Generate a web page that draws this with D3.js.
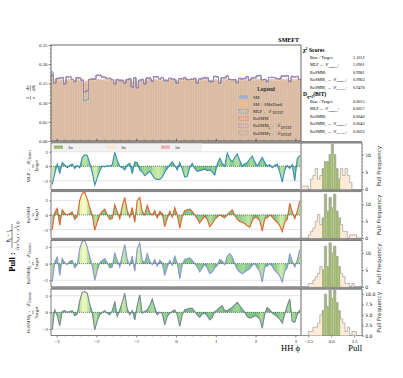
<!DOCTYPE html>
<html>
<head>
<meta charset="utf-8">
<script src="https://cdn.jsdelivr.net/npm/d3@7"></script>
<style>
  body { margin: 0; background: #fff; }
  svg { font-family: "Liberation Serif", "DejaVu Serif", serif; }
</style>
</head>
<body>
<svg id="chart" width="403" height="378"></svg>
<script>
// ---- data ----
const phiTicks = [-3, -2, -1, 0, 1, 2, 3];
const topTicks = [0, 0.05, 0.10, 0.15, 0.20, 0.25];

const smVals = [
  0.178,0.156,0.157,0.155,0.158,0.154,0.157,0.158,0.156,0.155,
  0.157,0.156,0.155,0.150,0.152,0.157,0.158,0.156,0.158,0.159,
  0.158,0.157,0.156,0.157,0.155,0.154,0.156,0.157,0.156,0.155,
  0.157,0.158,0.153,0.157,0.152,0.156,0.157,0.154,0.158,0.157,
  0.155,0.158,0.158,0.157,0.156,0.157,0.156,0.157,0.158,0.156,
  0.154,0.157,0.156,0.158,0.157,0.156,0.157,0.158,0.154,0.157,
  0.157,0.158,0.158,0.155,0.156,0.158,0.157,0.153,0.157,0.158,
  0.159,0.156,0.157,0.157,0.154,0.157,0.157,0.158,0.158,0.156,
  0.157,0.158,0.159,0.158,0.157,0.156,0.155,0.158,0.157,0.157,
  0.156,0.157,0.158,0.158,0.159,0.155,0.158,0.157,0.158,0.156
];
const bsmVals = [
  0.170,0.160,0.161,0.158,0.160,0.157,0.160,0.161,0.159,0.158,
  0.160,0.159,0.160,0.156,0.157,0.160,0.162,0.160,0.161,0.160,
  0.159,0.160,0.161,0.159,0.158,0.157,0.159,0.160,0.161,0.158,
  0.159,0.160,0.156,0.160,0.156,0.159,0.160,0.158,0.161,0.160,
  0.158,0.161,0.160,0.160,0.159,0.158,0.160,0.159,0.161,0.159,
  0.157,0.160,0.159,0.161,0.160,0.159,0.160,0.161,0.158,0.160,
  0.161,0.160,0.161,0.158,0.159,0.161,0.160,0.157,0.160,0.161,
  0.162,0.159,0.160,0.161,0.157,0.160,0.160,0.161,0.162,0.159,
  0.160,0.161,0.162,0.161,0.160,0.159,0.158,0.161,0.160,0.160,
  0.159,0.161,0.161,0.160,0.162,0.158,0.161,0.160,0.162,0.159
];
const mlpVals = [
  0.180,0.152,0.164,0.162,0.166,0.149,0.167,0.168,0.161,0.156,
  0.166,0.163,0.157,0.105,0.108,0.161,0.160,0.163,0.171,0.170,
  0.168,0.165,0.164,0.162,0.161,0.149,0.159,0.159,0.156,0.151,
  0.161,0.161,0.141,0.164,0.139,0.157,0.161,0.149,0.164,0.165,
  0.156,0.167,0.168,0.161,0.166,0.157,0.158,0.162,0.163,0.159,
  0.151,0.162,0.163,0.164,0.161,0.159,0.162,0.162,0.151,0.161,
  0.164,0.164,0.165,0.154,0.156,0.167,0.168,0.151,0.164,0.165,
  0.169,0.161,0.159,0.160,0.153,0.162,0.163,0.162,0.167,0.159,
  0.164,0.165,0.169,0.171,0.159,0.161,0.154,0.165,0.166,0.165,
  0.163,0.161,0.169,0.170,0.169,0.156,0.167,0.168,0.167,0.161
];
const rosmmVals = [
  0.173,0.151,0.162,0.164,0.164,0.149,0.167,0.166,0.161,0.154,
  0.164,0.165,0.159,0.127,0.131,0.159,0.162,0.161,0.171,0.172,
  0.166,0.167,0.162,0.164,0.159,0.149,0.161,0.157,0.158,0.151,
  0.159,0.163,0.141,0.164,0.139,0.159,0.159,0.149,0.164,0.163,
  0.156,0.167,0.166,0.163,0.164,0.159,0.156,0.164,0.161,0.161,
  0.151,0.162,0.161,0.166,0.159,0.161,0.160,0.164,0.151,0.161,
  0.162,0.166,0.163,0.156,0.154,0.169,0.166,0.151,0.164,0.165,
  0.169,0.161,0.159,0.160,0.151,0.164,0.161,0.164,0.167,0.159,
  0.164,0.165,0.169,0.171,0.159,0.161,0.156,0.165,0.166,0.165,
  0.161,0.163,0.169,0.168,0.171,0.154,0.169,0.166,0.169,0.159
];
const rosmmLVals = [
  0.172,0.150,0.163,0.163,0.165,0.148,0.168,0.167,0.160,0.155,
  0.165,0.164,0.158,0.128,0.130,0.160,0.161,0.162,0.172,0.171,
  0.167,0.166,0.163,0.163,0.160,0.148,0.160,0.158,0.157,0.150,
  0.160,0.162,0.140,0.165,0.138,0.158,0.160,0.148,0.165,0.164,
  0.155,0.168,0.167,0.162,0.165,0.158,0.157,0.163,0.162,0.160,
  0.150,0.163,0.162,0.165,0.160,0.160,0.161,0.163,0.150,0.162,
  0.163,0.165,0.164,0.155,0.155,0.168,0.167,0.150,0.165,0.164,
  0.170,0.160,0.160,0.159,0.152,0.163,0.162,0.163,0.168,0.158,
  0.165,0.164,0.170,0.170,0.160,0.160,0.155,0.166,0.165,0.166,
  0.162,0.162,0.170,0.169,0.170,0.155,0.168,0.167,0.168,0.160
];
const rosmmTVals = [
  0.171,0.151,0.162,0.164,0.165,0.149,0.167,0.167,0.160,0.156,
  0.165,0.163,0.158,0.130,0.132,0.160,0.161,0.161,0.171,0.171,
  0.167,0.165,0.163,0.162,0.160,0.149,0.160,0.158,0.157,0.151,
  0.160,0.161,0.141,0.164,0.139,0.158,0.160,0.149,0.164,0.164,
  0.156,0.167,0.167,0.162,0.164,0.158,0.157,0.162,0.162,0.160,
  0.151,0.162,0.162,0.164,0.160,0.160,0.161,0.162,0.151,0.162,
  0.163,0.164,0.164,0.156,0.155,0.167,0.167,0.151,0.164,0.164,
  0.169,0.160,0.160,0.159,0.153,0.162,0.162,0.163,0.167,0.158,
  0.164,0.164,0.169,0.170,0.160,0.160,0.156,0.165,0.165,0.165,
  0.162,0.162,0.169,0.169,0.169,0.156,0.167,0.167,0.167,0.160
];

// pulls per phi bin, one array per model
const pullMLP = [
  -2.5,-1.0,0.3,-1.0,0.5,0.2,-0.2,0.1,0.3,-0.3,
  0.1,-0.2,1.2,1.6,1.5,0.4,-0.8,-2.6,-1.6,-0.6,
  0.0,-0.1,0.1,0.0,0.2,1.9,0.8,0.0,-0.2,-0.5,
  0.2,0.4,-1.0,0.6,0.5,-0.5,-0.8,-1.3,-1.0,-0.7,
  -1.2,-1.7,-1.8,-1.8,-1.5,-0.8,-0.3,0.2,0.6,0.1,
  -0.5,0.5,-0.4,-1.5,-1.4,-0.2,0.4,-0.3,-0.7,-0.6,
  -0.5,-0.4,-0.6,-0.5,-0.8,-1.2,0.3,1.1,0.4,0.0,
  1.8,1.0,0.6,1.2,1.7,0.8,0.0,0.3,0.5,1.0,
  1.4,0.6,0.0,0.6,1.2,0.5,0.0,0.2,-0.2,0.1,
  0.3,-0.8,-2.2,-0.5,0.1,-0.3,0.2,-2.0,1.0,1.5
];
const pullRoSMM = [
  -2.0,0.3,0.9,-1.4,0.7,0.2,0.0,0.2,0.4,-0.6,
  -0.2,2.0,3.0,3.1,2.2,1.0,0.0,-2.1,-1.0,0.0,
  0.5,0.8,0.0,-0.6,-0.5,1.4,0.5,-0.5,1.2,2.4,
  0.6,-0.3,1.0,-1.0,2.0,2.4,0.5,0.0,1.3,0.3,
  0.0,0.6,-0.4,0.5,0.2,-1.6,-0.5,0.5,-0.3,1.0,
  0.0,-1.8,-0.2,0.6,0.7,0.8,0.5,0.0,-0.5,-1.1,
  -0.6,-0.2,-0.6,-1.6,-1.2,-0.6,-0.3,0.0,-0.2,-0.4,
  0.0,0.4,0.7,0.0,-0.6,-0.9,-1.0,-1.2,-1.5,-1.7,
  -0.8,-0.3,-0.4,-0.8,-2.2,-0.5,-0.4,0.0,-0.3,-0.7,
  -1.0,-1.5,-2.3,-1.0,-0.6,1.6,0.4,-0.5,0.5,1.9
];
const pullRoSMML = [
  -2.2,0.2,0.8,-1.4,0.6,0.1,-0.1,0.3,0.4,-0.5,
  -0.1,1.8,2.7,2.8,2.0,0.8,-0.2,-2.0,-0.8,0.1,
  0.4,0.6,0.1,-0.5,-0.4,1.3,0.4,-0.4,1.0,2.3,
  0.5,-0.2,0.9,-0.9,1.8,2.5,0.4,0.1,1.2,0.3,
  -0.1,0.5,-0.3,0.4,0.1,-1.4,-0.4,0.4,-0.2,0.9,
  0.1,-1.8,-0.1,0.5,0.6,0.7,0.4,0.0,-0.4,-1.0,
  -0.5,-0.1,-0.5,-1.2,-1.0,-0.5,-0.2,0.5,0.3,-0.1,
  0.9,1.2,0.8,0.0,-0.7,-1.0,-1.2,-1.0,-0.8,-0.6,
  -0.2,0.0,-0.5,-0.9,-2.2,-0.4,-0.3,0.0,-0.3,-0.8,
  -1.1,-1.5,-2.2,-0.9,-0.5,1.2,0.3,-0.4,0.4,1.7
];
const pullRoSMMT = [
  -2.1,0.3,-0.4,-1.6,0.1,0.2,0.0,0.1,0.2,-0.4,
  -0.2,1.4,2.4,2.5,2.3,1.0,0.0,-2.1,-1.0,-0.3,
  0.0,0.2,-0.1,-0.3,0.2,1.3,-0.5,0.3,1.2,2.3,
  0.4,-0.3,0.2,-0.9,0.8,2.1,-0.1,0.1,0.3,0.8,
  1.6,0.6,-0.3,0.0,-0.1,-1.5,-0.5,-0.1,0.1,0.3,
  -0.3,-1.7,-0.3,0.3,0.4,0.5,0.5,0.1,-0.3,-0.6,
  -0.2,-0.1,-0.4,-0.9,-0.6,0.1,0.3,0.6,0.8,0.2,
  0.2,0.4,0.6,0.9,1.2,0.8,0.4,0.0,-0.5,-0.7,
  -0.6,-0.4,-0.5,-0.8,-1.9,-0.2,0.6,0.3,-0.1,-0.3,
  -0.5,-0.8,-1.3,-0.2,0.8,1.6,-1.1,-1.2,-0.3,0.3
];

// pull histograms: counts per 0.25-wide bin from -3.5 to 3.5
const histMLP    = [0,1,1,1,0,3,4,6,3,4,6,8,8,10,13,10,6,3,6,4,6,4,2,0,0,0,0,0];
const histRoSMM  = [0,0,0,0,1,2,3,5,7,4,6,13,8,12,9,13,8,6,4,2,2,0,1,1,1,0,0,0];
const histRoSMML = [0,0,0,0,1,1,2,3,4,6,5,12,6,13,10,12,9,6,4,3,1,1,0,1,0,0,0,0];
const histRoSMMT = [0,0,0,0,1,1,2,2,3,5,6,10,7,11,9,11,8,6,4,3,1,2,0,1,1,0,0,0];
const histStart = -3.5, histStep = 0.25;

const chiValues = ["1.1012", "1.0901", "0.9981", "0.9963", "0.9478"];
const divValues = ["0.0015", "0.0057", "0.0040", "0.0043", "0.0033"];

// ---- layout ----
const svg = d3.select("#chart");
const L = 51, R = 301, HR = 362;
const topY0 = 45, topY1 = 141;
const panelTop = [143, 191.7, 240.4, 289.1];
const panelH = 46.5;
const frameCol = "#444";

const edges = d3.range(101).map(i => -Math.PI + i * 2 * Math.PI / 100);
const centers = d3.range(100).map(i => (edges[i] + edges[i + 1]) / 2);

const x = d3.scaleLinear().domain([-Math.PI, Math.PI]).range([L, R]);
const yTop = d3.scaleLinear().domain([0, 0.25]).range([topY1, topY0]);

function rich(t, parts, size) {
  // parts: strings or {sub: "..."} / {sup: "..."}
  let shift = 0;
  parts.forEach(p => {
    if (typeof p === "string") {
      t.append("tspan").attr("dy", -shift).text(p);
      shift = 0;
    } else if (p.sub !== undefined) {
      const s = size * 0.3;
      t.append("tspan").attr("dy", s - shift).attr("font-size", size * 0.68).text(p.sub);
      shift = s;
    } else if (p.sup !== undefined) {
      const s = -size * 0.38;
      t.append("tspan").attr("dy", s - shift).attr("font-size", size * 0.68).text(p.sup);
      shift = s;
    }
  });
  return t;
}

// ---- top panel ----
const topG = svg.append("g");
const bw = x(edges[1]) - x(edges[0]);

topG.selectAll(".sm").data(smVals).join("rect")
  .attr("x", (d, i) => x(edges[i]))
  .attr("width", bw)
  .attr("y", d => yTop(d))
  .attr("height", d => yTop(0) - yTop(d))
  .attr("fill", "#8fa6c6").attr("fill-opacity", 0.5);

topG.selectAll(".bsm").data(bsmVals).join("rect")
  .attr("x", (d, i) => x(edges[i]))
  .attr("width", bw)
  .attr("y", d => yTop(d))
  .attr("height", d => yTop(0) - yTop(d))
  .attr("fill", "#f2b07a").attr("fill-opacity", 0.55)
  .attr("stroke", "#c9b29b").attr("stroke-width", 0.3);

const stepLine = d3.line().x(d => x(d[0])).y(d => yTop(d[1])).curve(d3.curveStepAfter);
function stepPts(vals) {
  const pts = vals.map((v, i) => [edges[i], v]);
  pts.push([edges[100], vals[99]]);
  return pts;
}
const lineSeries = [
  { vals: rosmmTVals, col: "#9a9a9a" },
  { vals: rosmmVals, col: "#e0603a" },
  { vals: mlpVals, col: "#4a9fd0" },
  { vals: rosmmLVals, col: "#9b7fd4" }
];
lineSeries.forEach(s => {
  topG.append("path").datum(stepPts(s.vals))
    .attr("d", stepLine)
    .attr("fill", "none")
    .attr("stroke", s.col)
    .attr("stroke-width", 0.9)
    .attr("stroke-dasharray", "2,1");
});

topG.append("rect").attr("x", L).attr("y", topY0).attr("width", R - L).attr("height", topY1 - topY0)
  .attr("fill", "none").attr("stroke", frameCol).attr("stroke-width", 0.8);

// top y axis
const yAx = topG.append("g").attr("transform", `translate(${L},0)`)
  .call(d3.axisLeft(yTop).tickValues(topTicks).tickFormat(d3.format(".2f")).tickSize(2.5));
yAx.select(".domain").remove();
yAx.selectAll("text").attr("font-size", 4.8).attr("font-family", "Liberation Serif").attr("fill", "#222").attr("x", -3.5);
yAx.selectAll("line").attr("stroke", frameCol).attr("stroke-width", 0.6);
const yMinor = topG.append("g").attr("transform", `translate(${L},0)`)
  .call(d3.axisLeft(yTop).tickValues(d3.range(0, 0.2501, 0.01)).tickFormat("").tickSize(1.3));
yMinor.select(".domain").remove();
yMinor.selectAll("line").attr("stroke", frameCol).attr("stroke-width", 0.4);

// top x ticks (inward, no labels)
const xMinorTop = topG.append("g").attr("transform", `translate(0,${topY1})`)
  .call(d3.axisTop(x).tickValues(d3.range(-3, 3.01, 0.2)).tickFormat("").tickSize(1.3));
xMinorTop.select(".domain").remove();
xMinorTop.selectAll("line").attr("stroke", frameCol).attr("stroke-width", 0.4);
const xMajTop = topG.append("g").attr("transform", `translate(0,${topY1})`)
  .call(d3.axisTop(x).tickValues(phiTicks).tickFormat("").tickSize(2.5));
xMajTop.select(".domain").remove();
xMajTop.selectAll("line").attr("stroke", frameCol).attr("stroke-width", 0.6);

// top y label
const tyl = topG.append("g").attr("transform", "translate(30,93) rotate(-90)");
tyl.append("text").attr("x", -5).attr("y", -1).attr("font-size", 5).attr("text-anchor", "middle").text("1");
tyl.append("text").attr("x", -5).attr("y", 5).attr("font-size", 5).attr("text-anchor", "middle").text("σ");
tyl.append("line").attr("x1", -7).attr("x2", -3).attr("y1", 0.5).attr("y2", 0.5).attr("stroke", "#222").attr("stroke-width", 0.4);
tyl.append("text").attr("x", 0).attr("y", 2).attr("font-size", 5).attr("text-anchor", "middle").text("·");
tyl.append("text").attr("x", 5).attr("y", -1).attr("font-size", 5).attr("text-anchor", "middle").text("dσ");
tyl.append("text").attr("x", 5).attr("y", 5).attr("font-size", 5).attr("text-anchor", "middle").text("dX");
tyl.append("line").attr("x1", 2).attr("x2", 8).attr("y1", 0.5).attr("y2", 0.5).attr("stroke", "#222").attr("stroke-width", 0.4);

topG.append("text").attr("x", R - 2).attr("y", 42).attr("text-anchor", "end")
  .attr("font-size", 6).attr("font-weight", "bold").text("SMEFT");

// top legend
const legendItems = [
  { parts: ["SM"], fill: "#9fb1c6", dash: false },
  { parts: ["SM + SMxDim6"], fill: "#f3bd8c", dash: false },
  { parts: ["MLP ← ℒ", { sub: "DIVERT" }], col: "#4a9fd0", dash: true },
  { parts: ["RoSMM"], col: "#e0603a", dash: true },
  { parts: ["RoSMM", { sub: "L" }, " ← ℒ", { sub: "DIVERT" }], col: "#9b7fd4", dash: true },
  { parts: ["RoSMM", { sub: "T" }, " ← ℒ", { sub: "DIVERT" }], col: "#9a9a9a", dash: true }
];
const lg = topG.append("g");
lg.append("text").attr("x", 266).attr("y", 91).attr("text-anchor", "middle")
  .attr("font-size", 5.6).attr("font-weight", "bold").attr("fill", "#333").text("Legend");
legendItems.forEach((it, i) => {
  const yy = 97 + i * 7.2;
  if (it.dash) {
    lg.append("rect").attr("x", 239).attr("y", yy - 1.8).attr("width", 9).attr("height", 3.6)
      .attr("fill", "none").attr("stroke", it.col).attr("stroke-width", 0.6).attr("stroke-dasharray", "1.2,0.8");
  } else {
    lg.append("rect").attr("x", 239).attr("y", yy - 1.8).attr("width", 9).attr("height", 3.6).attr("fill", it.fill);
  }
  rich(lg.append("text").attr("x", 253).attr("y", yy + 1.6).attr("font-size", 4.4).attr("fill", "#222"), it.parts, 4.4);
});

// right text block
const tb = svg.append("g");
function heading(yy, parts) {
  rich(tb.append("text").attr("x", 303).attr("y", yy).attr("font-size", 5.6).attr("font-weight", "bold"), parts, 5.6);
}
const rowLabels = [
  ["Base / Target:"],
  ["MLP ← ℒ", { sub: "Chamfer" }, ":"],
  ["RoSMM:"],
  ["RoSMM", { sub: "L" }, " ← ℒ", { sub: "Chamfer" }, ":"],
  ["RoSMM", { sub: "L" }, " ← ℒ", { sub: "DIVERT" }, ":"]
];
function rows(y0, vals) {
  vals.forEach((v, i) => {
    const yy = y0 + i * 7.4;
    rich(tb.append("text").attr("x", 310).attr("y", yy).attr("font-size", 4.2), rowLabels[i], 4.2);
    tb.append("text").attr("x", 353).attr("y", yy).attr("font-size", 4.2).text(v);
  });
}
heading(52, ["χ", { sup: "2" }, " Scores"]);
rows(59, chiValues);
heading(96, ["D", { sub: "q=2" }, "(B‖T)"]);
rows(103, divValues);

// ---- pull panels ----
const panels = [
  { pulls: pullMLP, hist: histMLP, col: "#3a8fbf", lim: 3.2, hmax: 13.3, label: ["MLP ← ℒ", { sub: "Chamfer" }], hticks: [0, 5, 10], hfmt: d3.format("d") },
  { pulls: pullRoSMM, hist: histRoSMM, col: "#e5622f", lim: 3.2, hmax: 13.7, label: ["RoSMM"], hticks: [0, 5, 10], hfmt: d3.format("d") },
  { pulls: pullRoSMML, hist: histRoSMML, col: "#8d97d8", lim: 2.8, hmax: 13.7, label: ["RoSMM", { sub: "L" }, " ← ℒ", { sub: "Chamfer" }], hticks: [0, 5, 10], hfmt: d3.format("d") },
  { pulls: pullRoSMMT, hist: histRoSMMT, col: "#7a8896", lim: 2.8, hmax: 11.2, label: ["RoSMM", { sub: "L" }, " ← ℒ", { sub: "Chamfer" }], hticks: [0, 2.5, 5, 7.5, 10], hfmt: d3.format(".1f") }
];

const hx = d3.scaleLinear().domain([-3.3, 3.35]).range([R, HR]);
const fillColor = v => d3.interpolateYlGn(0.1 + 0.55 * (1 - Math.min(Math.abs(v) / 3, 1)));

panels.forEach((p, k) => {
  const t = panelTop[k], b = t + panelH;
  const y = d3.scaleLinear().domain([-p.lim, p.lim]).range([b, t]);
  const g = svg.append("g");

  // grid at +-2 and zero line
  [-2, 2].forEach(v => g.append("line").attr("x1", L).attr("x2", R).attr("y1", y(v)).attr("y2", y(v))
    .attr("stroke", "#c8c8c8").attr("stroke-width", 0.5));

  // filled segments coloured by pull size
  const area = d3.area().x(d => x(d[0])).y0(y(0)).y1(d => y(d[1]));
  for (let i = 0; i < 99; i++) {
    const seg = [[centers[i], p.pulls[i]], [centers[i + 1], p.pulls[i + 1]]];
    g.append("path").datum(seg).attr("d", area)
      .attr("fill", fillColor((p.pulls[i] + p.pulls[i + 1]) / 2))
      .attr("fill-opacity", 0.85)
      .attr("stroke", fillColor((p.pulls[i] + p.pulls[i + 1]) / 2)).attr("stroke-width", 0.2);
  }
  g.append("line").attr("x1", L).attr("x2", R).attr("y1", y(0)).attr("y2", y(0))
    .attr("stroke", "#333").attr("stroke-width", 0.6).attr("stroke-dasharray", "1,1");

  g.append("path").datum(p.pulls.map((v, i) => [centers[i], v]))
    .attr("d", d3.line().x(d => x(d[0])).y(d => y(d[1])))
    .attr("fill", "none").attr("stroke", p.col).attr("stroke-width", 1.1);

  // frame + separator band
  g.append("rect").attr("x", L).attr("y", t).attr("width", HR - L).attr("height", panelH)
    .attr("fill", "none").attr("stroke", frameCol).attr("stroke-width", 0.7);
  g.append("rect").attr("x", L).attr("y", t - 2).attr("width", HR - L).attr("height", 2).attr("fill", "#8a8a8a");
  g.append("line").attr("x1", R).attr("x2", R).attr("y1", t).attr("y2", b).attr("stroke", frameCol).attr("stroke-width", 0.8);

  // y axis
  const ya = g.append("g").attr("transform", `translate(${L},0)`)
    .call(d3.axisLeft(y).tickValues([-2, 0, 2]).tickFormat(d => d === 0 ? "0" : (d < 0 ? "−" : "") + Math.abs(d)).tickSize(2));
  ya.select(".domain").remove();
  ya.selectAll("text").attr("font-size", 4.8).attr("font-family", "Liberation Serif").attr("fill", "#222").attr("x", -3.2);
  ya.selectAll("line").attr("stroke", frameCol).attr("stroke-width", 0.5);

  // x ticks
  const xa = g.append("g").attr("transform", `translate(0,${b})`)
    .call(d3.axisBottom(x).tickValues(phiTicks).tickFormat(k === 3 ? (d => (d < 0 ? "−" : "") + Math.abs(d)) : "").tickSize(2));
  xa.select(".domain").remove();
  xa.selectAll("text").attr("font-size", 4.8).attr("font-family", "Liberation Serif").attr("fill", "#222").attr("y", 3.5);
  xa.selectAll("line").attr("stroke", frameCol).attr("stroke-width", 0.5);
  const xm = g.append("g").attr("transform", `translate(0,${b})`)
    .call(d3.axisBottom(x).tickValues(d3.range(-3, 3.01, 0.2)).tickFormat("").tickSize(1.1));
  xm.select(".domain").remove();
  xm.selectAll("line").attr("stroke", frameCol).attr("stroke-width", 0.35);

  // panel label
  const lbl = g.append("g").attr("transform", `translate(0,${(t + b) / 2}) rotate(-90)`);
  rich(lbl.append("text").attr("y", 30).attr("text-anchor", "middle").attr("font-size", 4.8).attr("fill", "#222"), p.label, 4.8);
  lbl.append("text").attr("y", 33.6).attr("text-anchor", "middle").attr("font-size", 4.2).attr("fill", "#222").text("vs");
  lbl.append("text").attr("y", 38).attr("text-anchor", "middle").attr("font-size", 4.8).attr("fill", "#222").text("Target");

  // ---- pull histogram ----
  const hy = d3.scaleLinear().domain([0, p.hmax]).range([b, t]);
  const binLo = i => histStart + i * histStep;
  const hcol = c => Math.abs(c) < 1 ? "#a2b774" : (Math.abs(c) < 3 ? "#fde9d4" : "#fbe0e3");
  g.selectAll(".hb").data(p.hist).join("rect")
    .attr("x", (d, i) => hx(binLo(i)))
    .attr("width", hx(histStep) - hx(0))
    .attr("y", d => hy(d))
    .attr("height", d => hy(0) - hy(d))
    .attr("fill", (d, i) => hcol(binLo(i) + histStep / 2));
  const hpts = p.hist.map((c, i) => [binLo(i), c]);
  hpts.push([binLo(p.hist.length), 0]);
  g.append("path").datum(hpts)
    .attr("d", d3.line().x(d => hx(d[0])).y(d => hy(d[1])).curve(d3.curveStepAfter))
    .attr("fill", "none").attr("stroke", "#a0a0a0").attr("stroke-width", 0.7);

  const hya = g.append("g").attr("transform", `translate(${HR},0)`)
    .call(d3.axisRight(hy).tickValues(p.hticks).tickFormat(p.hfmt).tickSize(2));
  hya.select(".domain").remove();
  hya.selectAll("text").attr("font-size", 4.6).attr("fill", "#222").attr("x", 3.2).attr("font-family", "DejaVu Sans");
  hya.selectAll("line").attr("stroke", frameCol).attr("stroke-width", 0.5);
  const hym = g.append("g").attr("transform", `translate(${HR},0)`)
    .call(d3.axisRight(hy).tickValues(d3.range(0, p.hmax, k === 3 ? 0.5 : 1)).tickFormat("").tickSize(1.1));
  hym.select(".domain").remove();
  hym.selectAll("line").attr("stroke", frameCol).attr("stroke-width", 0.35);

  const hxa = g.append("g").attr("transform", `translate(0,${b})`)
    .call(d3.axisBottom(hx).tickValues([-2.5, 0, 2.5]).tickFormat(k === 3 ? (d => (d < 0 ? "−" : "") + d3.format(".1f")(Math.abs(d))) : "").tickSize(2));
  hxa.select(".domain").remove();
  hxa.selectAll("text").attr("font-size", 4.8).attr("font-family", "Liberation Serif").attr("fill", "#222").attr("y", 3.5);
  hxa.selectAll("line").attr("stroke", frameCol).attr("stroke-width", 0.5);

  g.append("text").attr("transform", `translate(381,${(t + b) / 2}) rotate(-90)`)
    .attr("text-anchor", "middle").attr("font-family", "DejaVu Sans").attr("font-size", 5.6).attr("fill", "#333")
    .text("Pull Frequency");
});

// legend for sigma bands in first panel
const sg = svg.append("g");
sg.append("rect").attr("x", L + 1).attr("y", panelTop[0] + 0.5).attr("width", 150).attr("height", 7.5)
  .attr("fill", "#eeeeee").attr("fill-opacity", 0.85);
const sigItems = [
  { name: "1σ", col: "#9fb86e", x0: 54 },
  { name: "3σ", col: "#fde5c9", x0: 107 },
  { name: "5σ", col: "#f2aab3", x0: 161 }
];
sigItems.forEach(s => {
  sg.append("rect").attr("x", s.x0).attr("y", panelTop[0] + 2.5).attr("width", 9).attr("height", 3.3).attr("fill", s.col);
  sg.append("text").attr("x", s.x0 + 14).attr("y", panelTop[0] + 5.8).attr("font-size", 4.6).attr("fill", "#222").text(s.name);
});

// big pull label
const pl = svg.append("g").attr("transform", "translate(0,246) rotate(-90)");
pl.append("text").attr("x", -16).attr("y", 15).attr("text-anchor", "middle").attr("font-size", 8.5).attr("font-weight", "bold").text("Pull :");
rich(pl.append("text").attr("x", 10).attr("y", 10).attr("text-anchor", "middle").attr("font-size", 5.6),
  ["h", { sub: "i" }, " − t", { sub: "i" }], 5.6);
pl.append("line").attr("x1", -2).attr("x2", 22).attr("y1", 12).attr("y2", 12).attr("stroke", "#111").attr("stroke-width", 0.5);
rich(pl.append("text").attr("x", 10).attr("y", 18.5).attr("text-anchor", "middle").attr("font-size", 5),
  ["√(σ", { sup: "2" }, "h,i", " + σ", { sup: "2" }, "t,i", ")"], 5);

// axis titles
svg.append("text").attr("x", R - 1).attr("y", 351).attr("text-anchor", "end").attr("font-size", 8.5).text("HH ϕ");
svg.append("text").attr("x", HR).attr("y", 351).attr("text-anchor", "end").attr("font-size", 8.5).text("Pull");
</script>
</body>
</html>
